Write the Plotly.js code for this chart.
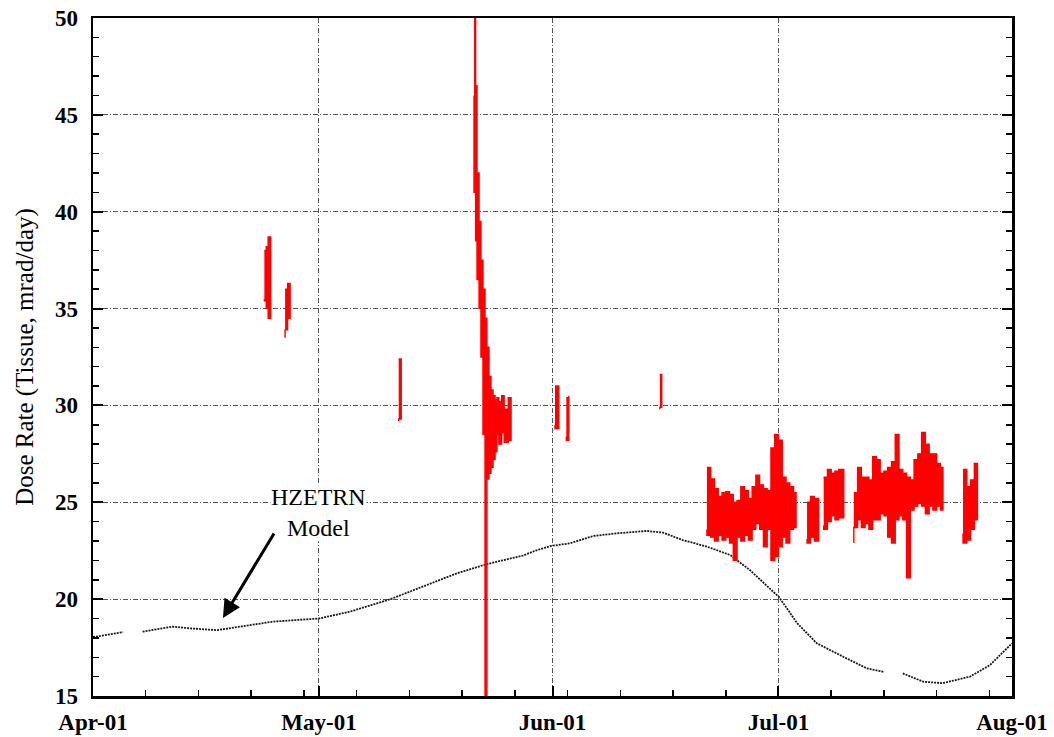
<!DOCTYPE html>
<html>
<head>
<meta charset="utf-8">
<script src="https://cdn.plot.ly/plotly-3.0.1.min.js"></script>
<style>
  html, body { margin: 0; padding: 0; background: #fff; }
  #chart { width: 1054px; height: 737px; }
</style>
</head>
<body>
<div id="chart"></div>
<script>
// HZETRN model dose rate (tissue), mrad/day; null marks a break in the curve
const modelTime = [
  '2001-04-01 00:00', '2001-04-02 00:00', '2001-04-05 00:00', '2001-04-06 00:00',
  '2001-04-07 14:00', '2001-04-11 14:00', '2001-04-13 22:00', '2001-04-17 12:00',
  '2001-04-20 12:00', '2001-04-24 22:00', '2001-05-01 00:00', '2001-05-05 02:00',
  '2001-05-10 10:00', '2001-05-14 19:00', '2001-05-19 07:00', '2001-05-23 07:00',
  '2001-05-28 02:00', '2001-05-29 17:00', '2001-05-31 17:00', '2001-06-03 07:00',
  '2001-06-06 10:00', '2001-06-09 14:00', '2001-06-13 12:00', '2001-06-15 17:00',
  '2001-06-18 07:00', '2001-06-21 12:00', '2001-06-24 14:00', '2001-06-27 05:00',
  '2001-07-01 02:00', '2001-07-03 12:00', '2001-07-06 02:00', '2001-07-09 14:00',
  '2001-07-12 17:00', '2001-07-14 22:00', '2001-07-16 00:00', '2001-07-17 12:00',
  '2001-07-20 05:00', '2001-07-22 19:00', '2001-07-26 10:00', '2001-07-29 02:00',
  '2001-08-01 00:00'
];
const modelDose = [
  18.05, 18.10, 18.30, null,
  18.32, 18.58, 18.49, 18.40,
  18.58, 18.84, 19.00, 19.35,
  19.99, 20.64, 21.33, 21.81,
  22.25, 22.50, 22.74, 22.88,
  23.26, 23.40, 23.52, 23.43,
  23.05, 22.71, 22.28, 21.50,
  20.10, 18.75, 17.72, 17.03,
  16.43, 16.25, null, 16.17,
  15.74, 15.66, 16.00, 16.60,
  17.72
];

// Measured dose rate: low / high of the readings at each time; null separates bursts
const marieTime = [
  '2001-04-23 18:00', '2001-04-24 00:00', '2001-04-24 06:00', '2001-04-24 14:00', null,
  '2001-04-26 12:00', '2001-04-26 20:00', '2001-04-27 04:00', null,
  '2001-05-11 14:00', '2001-05-11 22:00', null,
  '2001-05-21 14:00', '2001-05-21 19:00', '2001-05-21 23:30', '2001-05-22 06:00',
  '2001-05-22 12:00', '2001-05-22 18:30', '2001-05-23 01:00', '2001-05-23 07:00',
  '2001-05-23 13:40', '2001-05-23 20:00', '2001-05-24 02:30', '2001-05-24 09:00',
  '2001-05-24 15:00', '2001-05-24 21:00', '2001-05-25 06:00', '2001-05-25 14:00',
  '2001-05-26 03:00', '2001-05-26 12:00', null,
  '2001-06-01 08:00', '2001-06-01 20:00', null,
  '2001-06-02 20:00', '2001-06-03 04:00', null,
  '2001-06-15 06:00', '2001-06-15 12:00', null,
  '2001-06-21 12:00', '2001-06-22 00:00', '2001-06-22 12:00', '2001-06-23 00:00',
  '2001-06-23 12:00', '2001-06-24 00:00', '2001-06-24 12:00', '2001-06-25 00:00',
  '2001-06-25 12:00', '2001-06-26 00:00', '2001-06-26 12:00', '2001-06-27 00:00',
  '2001-06-27 12:00', '2001-06-28 00:00', '2001-06-28 12:00', '2001-06-29 00:00',
  '2001-06-29 12:00', '2001-06-30 00:00', '2001-06-30 12:00', '2001-07-01 00:00',
  '2001-07-01 12:00', '2001-07-02 00:00', '2001-07-02 12:00', '2001-07-03 00:00',
  '2001-07-03 08:00', null,
  '2001-07-04 19:00', '2001-07-05 06:00', '2001-07-05 18:00', '2001-07-06 08:00', null,
  '2001-07-07 00:00', '2001-07-07 12:00', '2001-07-08 00:00', '2001-07-08 12:00',
  '2001-07-09 00:00', '2001-07-09 16:00', null,
  '2001-07-11 00:00', '2001-07-11 12:00', '2001-07-12 00:00', '2001-07-12 12:00',
  '2001-07-13 00:00', '2001-07-13 12:00', '2001-07-14 00:00', '2001-07-14 12:00',
  '2001-07-15 00:00', '2001-07-15 12:00', '2001-07-16 00:00', '2001-07-16 12:00',
  '2001-07-17 00:00', '2001-07-17 12:00', '2001-07-18 00:00', '2001-07-18 12:00',
  '2001-07-19 00:00', '2001-07-19 12:00', '2001-07-20 00:00', '2001-07-20 12:00',
  '2001-07-21 00:00', '2001-07-21 12:00', '2001-07-22 00:00', '2001-07-22 12:00',
  '2001-07-22 20:00', null,
  '2001-07-25 12:00', '2001-07-26 00:00', '2001-07-26 12:00', '2001-07-27 00:00',
  '2001-07-27 10:00'
];
const marieLow = [
  35.5, 35.4, 35.0, 34.5, null,
  33.5, 33.9, 34.5, null,
  29.2, 29.3, null,
  46.0, 41.0, 38.5, 36.5,
  35.0, 32.5, 28.5, 14.5,
  26.2, 26.5, 26.8, 27.2,
  27.6, 28.5, 28.0, 28.6,
  28.1, 28.2, null,
  29.0, 28.8, null,
  28.4, 28.2, null,
  29.8, 29.9, null,
  23.6, 23.3, 23.2, 23.0,
  23.3, 23.05, 23.2, 22.9,
  22.0, 23.2, 23.0, 23.3,
  23.05, 23.6, 23.9, 23.6,
  22.7, 23.6, 22.0, 22.2,
  22.7, 23.2, 22.9, 23.6,
  23.7, null,
  23.1, 22.9, 23.2, 23.0, null,
  23.8, 23.6, 24.0, 24.3,
  24.1, 24.2, null,
  22.9, 23.7, 24.1, 23.7,
  23.9, 23.6, 24.1, 24.1,
  24.4, 24.3, 23.2, 22.9,
  24.1, 24.3, 24.1, 21.1,
  24.6, 24.8, 24.95, 24.8,
  24.4, 24.8, 24.6, 24.8,
  24.6, null,
  23.4, 22.9, 23.05, 23.6,
  24.1
];
const marieHigh = [
  38.0, 38.2, 38.7, 38.0, null,
  36.0, 36.3, 35.9, null,
  32.4, 32.3, null,
  50.5, 46.5, 42.0, 39.5,
  37.5, 36.0, 34.5, 33.0,
  31.5, 30.8, 30.5, 30.3,
  30.4, 30.2, 30.5, 29.8,
  30.4, 30.3, null,
  31.0, 30.8, null,
  30.4, 30.5, null,
  31.6, 31.4, null,
  26.8, 26.2, 25.7, 25.3,
  25.5, 25.55, 25.4, 25.0,
  25.1, 25.8, 25.6, 25.2,
  25.8, 26.4, 25.9, 25.7,
  25.6, 27.8, 28.5, 28.2,
  26.3, 26.0, 25.8, 25.5,
  25.3, null,
  25.0, 25.3, 25.2, 25.0, null,
  26.3, 26.7, 26.5, 26.6,
  26.7, 26.5, null,
  25.5, 26.8, 26.3, 26.3,
  26.15, 27.35, 27.2, 26.5,
  26.6, 26.8, 27.1, 28.5,
  26.7, 26.5, 26.3, 26.15,
  27.2, 27.5, 28.6, 28.0,
  27.5, 27.5, 27.0, 26.8,
  26.7, null,
  26.7, 25.8, 26.15, 27.0,
  26.0
];

const serif = 'Liberation Serif, Times New Roman, serif';

// One filled band per burst: highs left to right, then lows back, stepped
function burstTrace(idx) {
  const xs = [], ys = [];
  idx.forEach(function (i) { xs.push(marieTime[i]); ys.push(marieHigh[i]); });
  idx.slice().reverse().forEach(function (i) { xs.push(marieTime[i]); ys.push(marieLow[i]); });
  return {
    x: xs, y: ys, type: 'scatter', mode: 'lines',
    fill: 'toself', fillcolor: '#ff0000',
    line: { color: '#ff0000', width: 1.4, shape: 'hv' },
    hoverinfo: 'x+y'
  };
}

const traces = [{
  x: modelTime, y: modelDose, type: 'scatter', mode: 'lines',
  connectgaps: false,
  line: { color: '#1a1a1a', width: 1.8, dash: '2px,1px' },
  hoverinfo: 'x+y'
}];

let current = [];
marieTime.forEach(function (t, i) {
  if (t === null) { if (current.length) traces.push(burstTrace(current)); current = []; }
  else current.push(i);
});
if (current.length) traces.push(burstTrace(current));

const axisCommon = {
  showline: true, linecolor: '#000', linewidth: 2.5,
  ticks: 'inside', ticklen: 10, tickwidth: 2, tickcolor: '#000',
  showgrid: true, gridcolor: '#555', gridwidth: 1, griddash: '5px,2px,1px,2px',
  zeroline: false
};

const layout = {
  width: 1054, height: 737,
  margin: { l: 93, r: 42, t: 18, b: 41 },
  paper_bgcolor: '#fff', plot_bgcolor: '#fff',
  showlegend: false,
  font: { family: serif, color: '#000' },
  xaxis: Object.assign({}, axisCommon, {
    type: 'date',
    range: ['2001-04-01', '2001-08-01'],
    tick0: '2001-04-01', dtick: 'M1', tickformat: '%b-%y',
    mirror: true,
    ticklabelstandoff: 4,
    tickfont: { family: serif, size: 23, color: '#000', weight: 'bold' },
    minor: { tick0: '2001-04-01', dtick: 7 * 86400000, ticks: 'inside', ticklen: 6, tickwidth: 1.5, tickcolor: '#000', showgrid: false }
  }),
  yaxis: Object.assign({}, axisCommon, {
    range: [15, 50], tick0: 15, dtick: 5,
    mirror: 'allticks',
    ticklabelstandoff: 8,
    tickfont: { family: serif, size: 23, color: '#000', weight: 'bold' },
    minor: { dtick: 1, ticks: 'inside', ticklen: 6, tickwidth: 1.5, tickcolor: '#000', showgrid: false },
    title: { text: 'Dose Rate (Tissue, mrad/day)', font: { family: serif, size: 25, color: '#000' }, standoff: 14 }
  }),
  annotations: [
    {
      x: '2001-04-30 22:00', y: 24.45, xref: 'x', yref: 'y',
      text: 'HZETRN<br>Model', showarrow: false,
      font: { family: serif, size: 24, color: '#000' },
      bgcolor: '#fff', borderpad: 0
    },
    {
      x: '2001-04-18 06:00', y: 19.03, xref: 'x', yref: 'y',
      text: '', showarrow: true, ax: 52, ay: -86,
      arrowhead: 2, arrowsize: 1.2, arrowwidth: 3, arrowcolor: '#000', standoff: 0
    }
  ]
};

Plotly.newPlot('chart', traces, layout, { displayModeBar: false, staticPlot: true });
</script>
</body>
</html>
